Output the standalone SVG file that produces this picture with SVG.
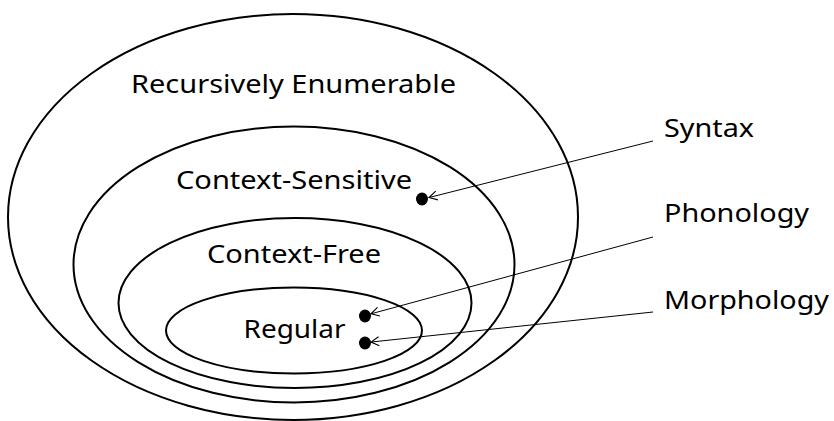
<svg xmlns="http://www.w3.org/2000/svg" width="834" height="421" viewBox="0 0 834 421">
<style>
.set{fill:none;stroke:#000;stroke-width:2}
.t{font-family:"Noto Sans","Open Sans",sans-serif;font-size:26px;fill:#000}
.c{stroke:#000;stroke-width:1;fill:none}
.h{stroke:#000;stroke-width:1.1;fill:none;stroke-linejoin:miter}
</style>
<rect width="834" height="421" fill="#fff"/>
<g id="re"><ellipse class="set" cx="293" cy="217" rx="285" ry="203"/><text class="t" x="131" y="93" textLength="325" lengthAdjust="spacingAndGlyphs">Recursively Enumerable</text></g>
<g id="cs"><ellipse class="set" cx="294" cy="264.5" rx="220.5" ry="138"/><text class="t" x="176" y="189" textLength="236" lengthAdjust="spacingAndGlyphs">Context-Sensitive</text></g>
<g id="cf"><ellipse class="set" cx="295" cy="303" rx="176.5" ry="85"/><text class="t" x="207" y="263" textLength="174" lengthAdjust="spacingAndGlyphs">Context-Free</text></g>
<g id="reg"><ellipse class="set" cx="294" cy="330.5" rx="128" ry="43"/><text class="t" x="243.5" y="338" textLength="102" lengthAdjust="spacingAndGlyphs">Regular</text></g>
<g id="syntax"><ellipse cx="422" cy="199" rx="6" ry="6.5"/><text class="t" x="664" y="137" textLength="90" lengthAdjust="spacingAndGlyphs">Syntax</text></g>
<g id="phonology"><ellipse cx="365" cy="316" rx="6" ry="6.5"/><text class="t" x="664" y="222" textLength="145" lengthAdjust="spacingAndGlyphs">Phonology</text></g>
<g id="morphology"><ellipse cx="365" cy="343" rx="6" ry="6.5"/><text class="t" x="664" y="309" textLength="165" lengthAdjust="spacingAndGlyphs">Morphology</text></g>
<g id="connectors">
<path class="c" d="M653,141 L429.5,197.4"/>
<path class="h" d="M437.9,199.9 L429,197.5 L435.7,191.2"/>
<path class="c" d="M653,237 L371.5,313.7"/>
<path class="h" d="M379.9,316 L371,313.8 L377.5,307.4"/>
<path class="c" d="M653,312 L371.5,342"/>
<path class="h" d="M379.4,345.7 L371,342.1 L378.5,336.8"/>
</g>
</svg>
